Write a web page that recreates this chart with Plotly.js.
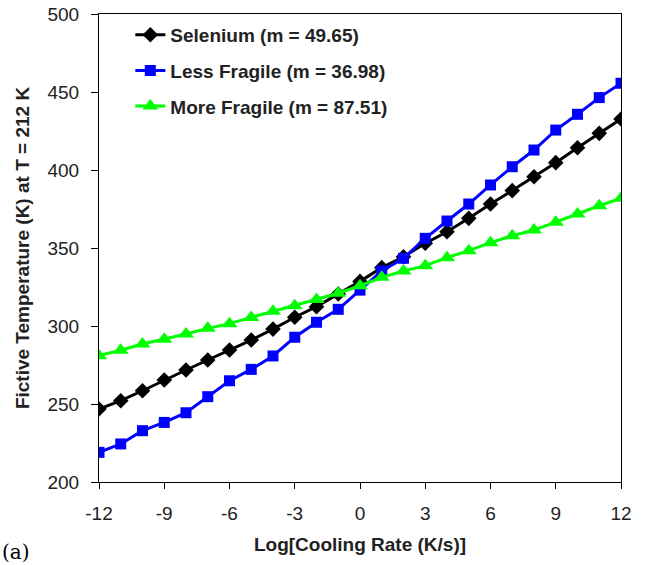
<!DOCTYPE html>
<html><head><meta charset="utf-8">
<script src="https://cdn.plot.ly/plotly-3.0.1.min.js"></script>
<style>body{margin:0;padding:0;background:#fff}#chart{width:647px;height:565px}</style>
</head><body><div id="chart"></div>
<script>
const logRate = [-12,-11,-10,-9,-8,-7,-6,-5,-4,-3,-2,-1,0,1,2,3,4,5,6,7,8,9,10,11,12];
const selenium = [246.8,252.1,258.5,265.4,271.8,278.2,284.6,291,298,305.6,312.4,320.5,328.6,337.4,344.4,353,360.4,369,378.2,386.8,395.7,404.7,414.3,423.5,432.7];
const lessFragile = [219,224.4,232.9,238.2,244.4,254.7,264.9,272.2,280.8,292.8,302.4,310.7,323,335.3,343.4,356.2,367.3,378.2,390.4,402.1,412.8,425.6,435.7,446.4,455.6];
const moreFragile = [281,284.5,288.5,291.5,294.9,298.5,301.5,305.5,309.5,313,317,321,325.8,331.2,335.3,338.7,343.8,348.3,353.4,357.9,361.5,366.5,371.8,377.1,381.9];
const names = ['Selenium (m = 49.65)','Less Fragile (m = 36.98)','More Fragile (m = 87.51)'];
const xTicks = [-12,-9,-6,-3,0,3,6,9,12];
const yTicks = [200,250,300,350,400,450,500];

const traces = [
  {x: logRate, y: selenium, name: names[0], legendgroup:'a', mode:'lines+markers',
   line:{color:'#000000', width:3}, marker:{symbol:'diamond', size:12, color:'#000000'}},
  {x: logRate, y: lessFragile, name: names[1], legendgroup:'b', mode:'lines+markers',
   line:{color:'#0000ff', width:3}, marker:{symbol:'square', size:11, color:'#0000ff'}},
  {x: logRate, y: moreFragile, name: names[2], legendgroup:'c', mode:'lines+markers',
   line:{color:'#00ff00', width:3}, marker:{symbol:'triangle-up', size:14, color:'#00ff00'}}
];

const layout = {
  width:647, height:565,
  margin:{l:99, r:26, t:14, b:83},
  paper_bgcolor:'#fff', plot_bgcolor:'#fff',
  font:{family:'Liberation Sans, Arial, sans-serif', color:'#222', size:19},
  showlegend:true,
  legend:{x:0.06, y:0.996, xanchor:'left', yanchor:'top', bgcolor:'rgba(0,0,0,0)',
    font:{family:'Liberation Sans, Arial, sans-serif', size:19, color:'#222', weight:'bold'},
    traceorder:'grouped', tracegroupgap:8, itemwidth:30},
  xaxis:{range:[-12,12], tickvals:xTicks, ticktext:xTicks.map(String), ticks:'outside', ticklen:6,
    tickcolor:'#000', showline:true, linecolor:'#000', linewidth:1, mirror:true, showgrid:false,
    zeroline:false, tickfont:{size:19}, ticklabelstandoff:8,
    title:{text:'<b>Log[Cooling Rate (K/s)]</b>', font:{size:19}, standoff:14}},
  yaxis:{range:[200,500], tickvals:yTicks, ticks:'outside', ticklen:7,
    tickcolor:'#000', showline:true, linecolor:'#000', linewidth:1, mirror:true, showgrid:false,
    zeroline:false, tickfont:{size:19}, ticklabelstandoff:8,
    title:{text:'<b>Fictive Temperature (K) at T = 212 K</b>', font:{size:19}, standoff:12}},
  annotations:[{text:'(a)', xref:'paper', yref:'paper', x:-0.19, y:-0.15, xanchor:'left', yanchor:'middle',
    showarrow:false, font:{family:'DejaVu Serif, Liberation Serif, serif', size:20, color:'#000'}}]
};
Plotly.newPlot('chart', traces, layout, {staticPlot:true, displayModeBar:false});
</script></body></html>
